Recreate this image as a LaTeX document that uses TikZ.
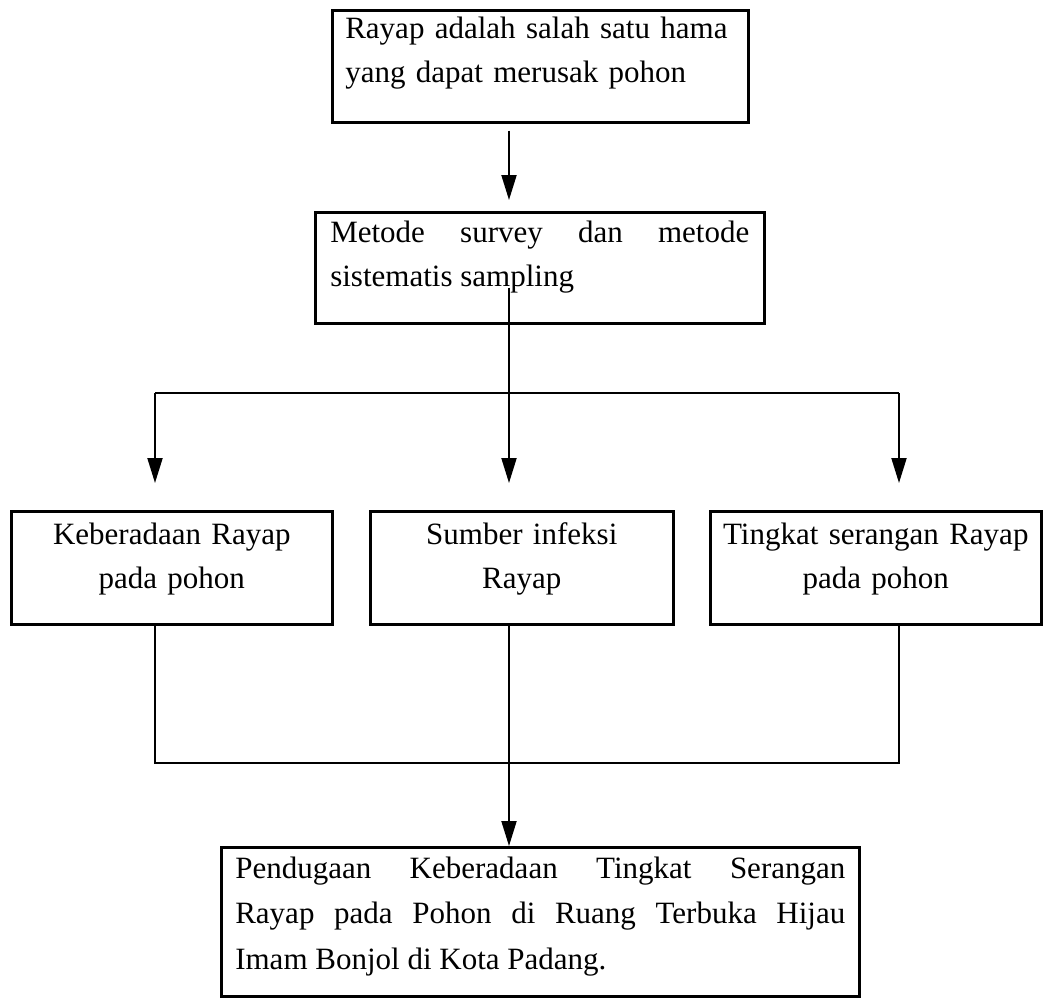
\documentclass[tikz,border=0pt]{standalone}
\usepackage{fontspec}
\setmainfont{Liberation Serif}
\usetikzlibrary{arrows.meta}

\begin{document}
\begin{tikzpicture}[x=1pt, y=-1pt,
    kotak/.style={draw, line width=2.6pt, anchor=north west, inner ysep=0pt,
      font={\fontsize{31}{44}\selectfont\tolerance=10000\hyphenpenalty=10000}},
    garis/.style={line width=2pt},
    panah/.style={line width=2pt, -{Triangle[length=25pt, width=15pt]}}]

      \useasboundingbox (0,0) rectangle (1044,997);

      % 1. Kotak atas
      \node[kotak, align=left, text width=390pt, inner xsep=13pt,
            text height=28pt, text depth=84pt] (rayap) at (331,9)
            {Rayap adalah salah satu hama\\ yang dapat merusak pohon};

      \node[kotak, align=justify, text width=419pt, inner xsep=15pt,
            text height=30pt, text depth=81pt] (metode) at (314,211)
            {Metode survey dan metode\linebreak sistematis sampling};

      % 2. Tiga kotak tengah
      \node[kotak, align=center, text width=311pt, inner xsep=5pt,
            text height=33pt, text depth=80pt] (keberadaan) at (10,510)
            {Keberadaan Rayap\\ pada pohon};

      \node[kotak, align=center, text width=293pt, inner xsep=5pt,
            text height=33pt, text depth=80pt] (sumber) at (369,510)
            {Sumber infeksi\\ Rayap};

      \node[kotak, align=center, text width=321pt, inner xsep=5pt,
            text height=33pt, text depth=80pt] (tingkat) at (709,510)
            {Tingkat serangan Rayap\\ pada pohon};

      % 3. Kotak bawah
      \node[kotak, align=justify, text width=610pt, inner xsep=14pt,
            text height=31pt, text depth=118pt,
            font={\fontsize{31}{45.5}\selectfont\tolerance=10000\hyphenpenalty=10000}]
            (pendugaan) at (220,846)
            {Pendugaan Keberadaan Tingkat Serangan\linebreak
             Rayap pada Pohon di Ruang Terbuka Hijau\linebreak
             Imam Bonjol di Kota Padang.};

      % 4. Garis dan panah
      \coordinate (kiri) at (155,393);
      \coordinate (tengah) at (509,393);
      \coordinate (kanan) at (899,393);
      \coordinate (gabung) at (509,763);

      \draw[panah, shorten <=7pt, shorten >=11pt] (rayap.south -| tengah) -- (metode.north -| tengah);
      \draw[panah, shorten >=27pt] ([yshift=37pt]metode.south -| tengah) -- (tengah |- sumber.north);

      \draw[garis] (kiri) -- (kanan);
      \draw[panah, shorten >=27pt] (kiri) -- (kiri |- keberadaan.north);
      \draw[panah, shorten >=27pt] (kanan) -- (kanan |- tingkat.north);

      \draw[garis] (kiri |- keberadaan.south) -- (kiri |- gabung) -- (kanan |- gabung) -- (kanan |- tingkat.south);
      \draw[panah] (tengah |- sumber.south) -- (tengah |- pendugaan.north);

\end{tikzpicture}
\end{document}
